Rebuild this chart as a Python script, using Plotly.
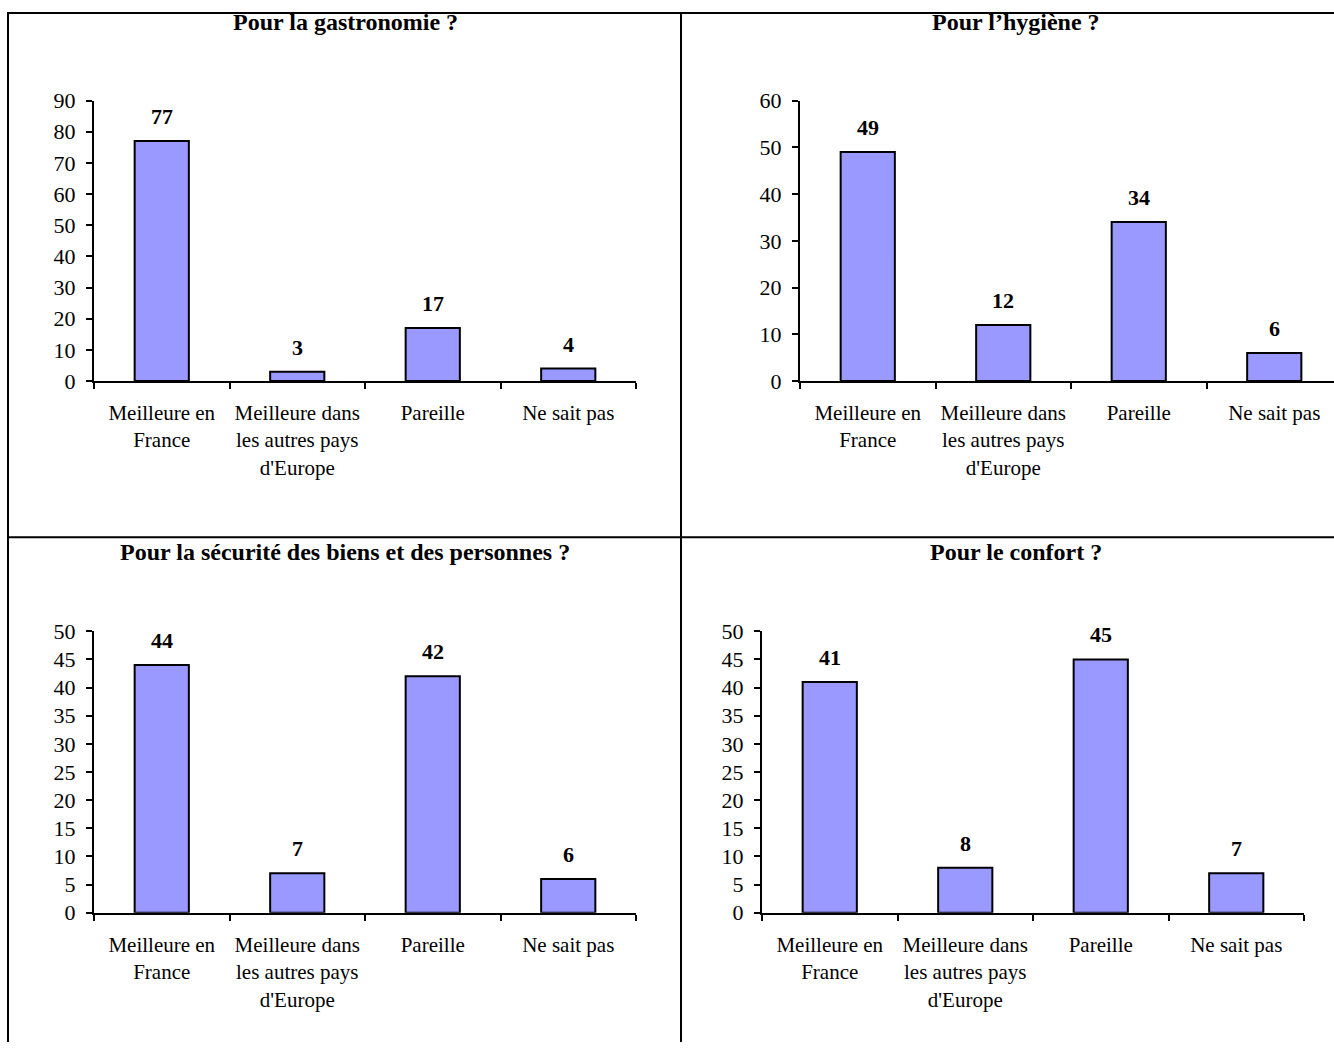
import plotly.graph_objects as go

W, H = 1334, 1055

categories = ["Meilleure en<br>France", "Meilleure dans<br>les autres pays<br>d'Europe", "Pareille", "Ne sait pas"]

titles = ["Pour la gastronomie ?", "Pour l’hygiène ?",
          "Pour la sécurité des biens et des personnes ?", "Pour le confort ?"]

gastronomie = [77, 3, 17, 4]
hygiene = [49, 12, 34, 6]
securite = [44, 7, 42, 6]
confort = [41, 8, 45, 7]

series = [gastronomie, hygiene, securite, confort]
y_max = [90, 60, 50, 50]
y_step = [10, 10, 5, 5]


def py(y):
    # map a target screenshot row to a page row (compensates the capture's vertical fit)
    return (y - 12.5) / 0.975


# panel geometry in target pixels: (x_left, x_right, y_top, y_bottom)
panels = [(94, 636, 101, 381), (800, 1342, 101, 381),
          (94, 636, 631, 912), (762, 1304, 631, 912)]
title_pos = [(345, 22), (1016, 22), (345, 552), (1016, 552)]

FONT = "Liberation Serif, Times New Roman, serif"
BAR_COLOR = "#9999FF"

fig = go.Figure()
annotations = []

for i, (vals, (x0, x1, y0, y1)) in enumerate(zip(series, panels)):
    idx = "" if i == 0 else str(i + 1)
    fig.add_trace(go.Bar(
        x=categories, y=vals,
        marker=dict(color=BAR_COLOR, line=dict(color="black", width=2)),
        xaxis="x" + idx, yaxis="y" + idx, showlegend=False,
        hoverinfo="skip",
    ))
    band = (x1 - x0) / 4
    xr_end = 3.5 if x1 <= W else 3.5 - (x1 - W) / band
    xd1 = min(x1, W) / W
    fig.layout["xaxis" + idx] = dict(
        domain=[x0 / W, xd1], anchor="y" + idx,
        range=[-0.5, xr_end], type="category",
        showline=True, linecolor="black", linewidth=2,
        ticks="outside", tickson="boundaries", ticklen=6, tickwidth=2, tickcolor="black",
        showgrid=False, zeroline=False,
        tickfont=dict(family=FONT, size=21, color="black"),
        ticklabelstandoff=12,
        fixedrange=True,
    )
    fig.layout["yaxis" + idx] = dict(
        domain=[1 - py(y1) / H, 1 - py(y0) / H], anchor="x" + idx,
        range=[0, y_max[i]], dtick=y_step[i], tick0=0,
        showline=True, linecolor="black", linewidth=2,
        ticks="outside", ticklen=6, tickwidth=2, tickcolor="black",
        showgrid=False, zeroline=False,
        tickfont=dict(family=FONT, size=22, color="black"),
        ticklabelstandoff=6,
        fixedrange=True,
    )
    for c, v in zip(categories, vals):
        annotations.append(dict(
            x=c, y=v, xref="x" + idx, yref="y" + idx,
            text="<b>%d</b>" % v, showarrow=False,
            yanchor="bottom", yshift=10,
            font=dict(family=FONT, size=22, color="black"),
        ))
    tx, ty = title_pos[i]
    annotations.append(dict(
        x=tx / W, y=1 - py(ty) / H, xref="paper", yref="paper",
        text="<b>%s</b>" % titles[i], showarrow=False,
        xanchor="center", yanchor="middle",
        font=dict(family=FONT, size=24, color="black"),
    ))


def hline(y, xa, xb):
    return dict(type="line", xref="paper", yref="paper",
                x0=xa / W, x1=xb / W, y0=1 - y / H, y1=1 - y / H,
                line=dict(color="black", width=2))


def vline(x, ya, yb):
    return dict(type="line", xref="paper", yref="paper",
                x0=x / W, x1=x / W, y0=1 - ya / H, y1=1 - yb / H,
                line=dict(color="black", width=2))


shapes = [hline(1, 8, W), hline(py(537), 8, W), vline(8, 0, H), vline(681, 0, H)]

fig.update_layout(
    width=W, height=H, autosize=False,
    margin=dict(l=0, r=0, t=0, b=0, pad=0),
    paper_bgcolor="white", plot_bgcolor="white",
    bargap=0.6,
    annotations=annotations, shapes=shapes,
    font=dict(family=FONT, color="black"),
)

fig.write_html("out.html", config={"displayModeBar": False, "responsive": False},
               post_script="document.body.style.margin='0';document.body.style.overflow='hidden';")
